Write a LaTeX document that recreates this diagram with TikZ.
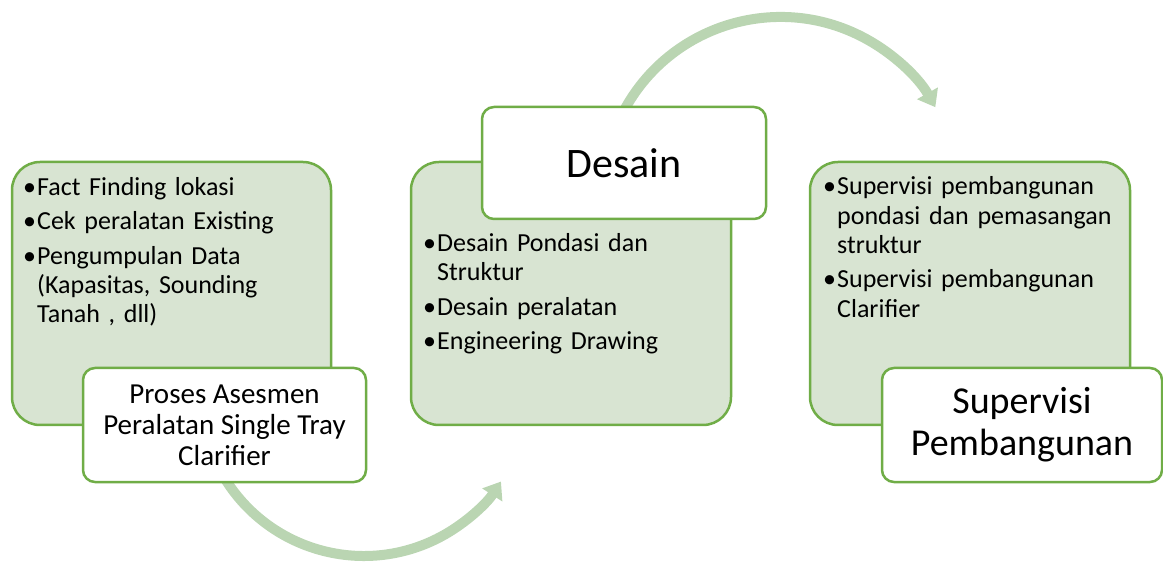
\documentclass[tikz,border=0pt]{standalone}
\usepackage{fontspec}
\setmainfont{Carlito}
\usetikzlibrary{arrows.meta}
\definecolor{gfill}{RGB}{216,228,210}
\definecolor{gline}{RGB}{112,173,71}
\definecolor{garrow}{RGB}{186,213,178}
\newcommand\bul{\makebox[14pt][l]{•}}
\newcommand\ind{\hspace*{14pt}}
\tikzset{
  panel/.style={draw=gline, line width=2.5pt, fill=gfill, rounded corners=28pt, inner sep=0pt},
  tag/.style={draw=gline, line width=2.5pt, fill=white, rounded corners=12pt, inner sep=0pt, align=center},
  bullets/.style={anchor=base west, inner sep=0pt, text width=330pt, align=left, font=\fontsize{26}{29.3}\selectfont},
  flow/.style={draw=garrow, line width=10pt, -{Triangle[length=16pt,width=23pt]}},
}
\begin{document}
\begin{tikzpicture}[x=1pt,y=1pt]
\useasboundingbox (0,0) rectangle (1163,563);
% arrows (behind boxes)
\coordinate (a1s) at (223.7,86.3);
\coordinate (a2s) at (623.6,451.7);
\draw[flow] (a1s) arc[start angle=211, end angle=327, radius=163.5];
\draw[flow] (a2s) arc[start angle=152, end angle=29.5, radius=177.8];
% panels
\node[panel, minimum width=319pt, minimum height=263pt] (p1) at (171.5,269.5) {};
\node[panel, minimum width=320pt, minimum height=263pt] (p2) at (571,269.5) {};
\node[panel, minimum width=320pt, minimum height=263pt] (p3) at (970,269.5) {};
% bullet texts
\node[bullets] (t1) at (23,367.5) {\bul Fact Finding lokasi\\[5pt]
\bul Cek peralatan Existing\\[5pt]
\bul Pengumpulan Data\\
\ind(Kapasitas, Sounding\\
\ind Tanah , dll)};
\node[bullets] (t2) at (423,311.3) {\bul Desain Pondasi dan\\
\ind Struktur\\[5pt]
\bul Desain peralatan\\[5pt]
\bul Engineering Drawing};
\node[bullets] (t3) at (823,368) {\bul Supervisi pembangunan\\
\ind pondasi dan pemasangan\\
\ind struktur\\[5pt]
\bul Supervisi pembangunan\\
\ind Clarifier};
% labels
\node[tag, minimum width=283pt, minimum height=114pt, font=\fontsize{29}{31}\selectfont] (l1) at (224.5,138) {Proses Asesmen\\Peralatan Single Tray\\Clarifier};
\node[tag, minimum width=284pt, minimum height=112pt, font=\fontsize{42}{42}\selectfont] (l2) at (624,400) {Desain};
\node[tag, minimum width=280pt, minimum height=114pt, font=\fontsize{38}{42}\selectfont] (l3) at (1022,138) {Supervisi\\Pembangunan};
\end{tikzpicture}
\end{document}
